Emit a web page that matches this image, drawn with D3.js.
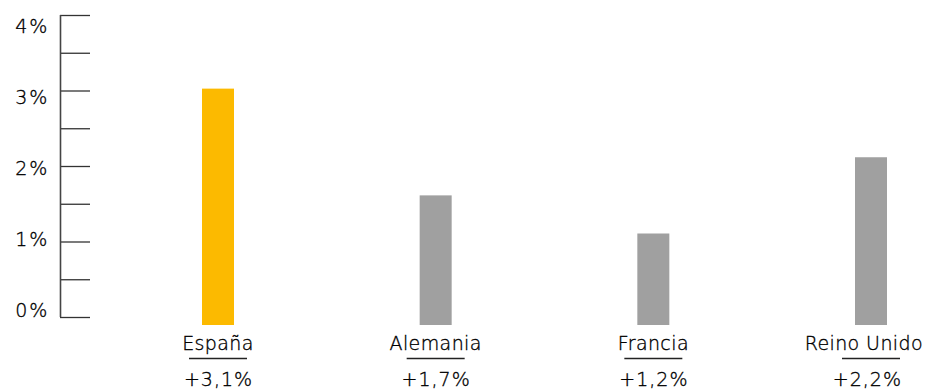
<!DOCTYPE html>
<html>
<head>
<meta charset="utf-8">
<script src="https://cdn.jsdelivr.net/npm/d3@7"></script>
<style>
  body { margin: 0; background: #fff; }
  svg { display: block; }
  text { font-family: "DejaVu Sans", "Liberation Sans", Arial, sans-serif; font-weight: 200; fill: #000; stroke: #000; stroke-width: 0.35; }
</style>
</head>
<body>
<svg width="928" height="389"></svg>
<script>
var countries = ["España", "Alemania", "Francia", "Reino Unido"];
var growth = [3.1, 1.7, 1.2, 2.2];
var growthLabels = ["+3,1%", "+1,7%", "+1,2%", "+2,2%"];
var tickValues = [0, 0.5, 1, 1.5, 2, 2.5, 3, 3.5, 4];
var labelValues = [0, 1, 2, 3, 4];

var svg = d3.select("svg"),
    width = +svg.attr("width");

// tick marks
var yTick = d3.scaleLinear().domain([0, 4]).range([317, 15]);
// labels sit a bit off the ticks in the original
var yLabel = d3.scaleLinear().domain([0, 4]).range([310, 26]);
// bars (start a little below the axis base)
var yBar = d3.scaleLinear().domain([0, 4]).range([325, 20]);

var x = d3.scalePoint()
    .domain(countries)
    .range([218, 871]);

var barW = 32;

var tickAxis = svg.append("g")
    .attr("transform", "translate(60,0)")
    .call(d3.axisRight(yTick).tickValues(tickValues).tickSize(30).tickFormat(""));
tickAxis.select(".domain").remove();
tickAxis.selectAll(".tick line").attr("stroke", "#333").attr("stroke-width", 1.3);

svg.append("line")
    .attr("x1", 60.5).attr("x2", 60.5)
    .attr("y1", yTick(4)).attr("y2", yTick(0))
    .attr("stroke", "#444").attr("stroke-width", 1.6);

var labelAxis = svg.append("g")
    .attr("transform", "translate(49,0)")
    .call(d3.axisLeft(yLabel).tickValues(labelValues).tickSize(0).tickPadding(0)
      .tickFormat(function(d) { return d + "%"; }));
labelAxis.select(".domain").remove();
labelAxis.attr("font-family", null).attr("font-size", null);
labelAxis.selectAll("text")
    .attr("fill", null)
    .style("font-size", "19px")
    .attr("letter-spacing", 1.8);

var data = countries.map(function(c, i) {
  return { name: c, value: growth[i], label: growthLabels[i] };
});

svg.selectAll("rect.bar")
  .data(data)
  .enter().append("rect")
    .attr("class", "bar")
    .attr("x", function(d) { return x(d.name) - barW / 2; })
    .attr("width", barW)
    .attr("y", function(d) { return yBar(d.value); })
    .attr("height", function(d) { return yBar(0) - yBar(d.value); })
    .attr("fill", function(d, i) { return i === 0 ? "#fcba00" : "#a0a0a0"; });

var g = svg.selectAll("g.cat")
  .data(data)
  .enter().append("g")
    .attr("class", "cat")
    .attr("transform", function(d) { return "translate(" + x(d.name) + ",0)"; });

g.append("text")
    .attr("class", "name")
    .attr("y", 350)
    .attr("text-anchor", "middle")
    .style("font-size", "19px")
    .attr("letter-spacing", 0.4)
    .text(function(d) { return d.name; });

g.append("line")
    .attr("x1", -29).attr("x2", 29)
    .attr("y1", 358.5).attr("y2", 358.5)
    .attr("stroke", "#222").attr("stroke-width", 1.5);

g.append("text")
    .attr("class", "val")
    .attr("y", 386)
    .attr("x", 0.5)
    .attr("text-anchor", "middle")
    .style("font-size", "19px")
    .attr("letter-spacing", 1)
    .text(function(d) { return d.label; });

// keep labels inside the right edge, like the original does for "Reino Unido"
g.selectAll("text.name").each(function(d) {
  var w = this.getComputedTextLength(),
      over = x(d.name) + w / 2 - (width - 5);
  if (over > 0) {
    d3.select(this).attr("x", -over);
    d3.select(this.parentNode).select("text.val").attr("x", -over / 2);
  }
});
</script>
</body>
</html>
